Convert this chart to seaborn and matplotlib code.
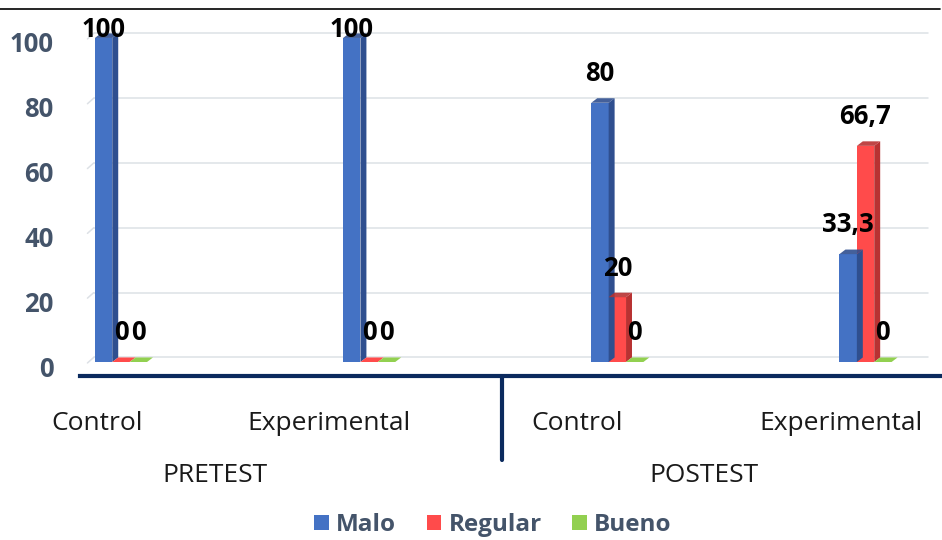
import matplotlib
matplotlib.use("Agg")
import matplotlib.pyplot as plt
import matplotlib.transforms as mtransforms
from matplotlib.patches import Polygon, Patch
from matplotlib.lines import Line2D
import seaborn as sns
import pandas as pd

# Datos
fases = ["PRETEST", "PRETEST", "POSTEST", "POSTEST"]
grupos = ["Control", "Experimental", "Control", "Experimental"]
niveles = ["Malo", "Regular", "Bueno"]
malo = [100, 100, 80, 33.3]
regular = [0, 0, 20, 66.7]
bueno = [0, 0, 0, 0]
yticks = [0, 20, 40, 60, 80, 100]

colores = {"Malo": "#4472C4", "Regular": "#FF4B4B", "Bueno": "#92D050"}
lados = {"Malo": "#2F4F8F", "Regular": "#B83232", "Bueno": "#5E9A2E"}

claves = [f"{f} {g}" for f, g in zip(fases, grupos)]
filas = []
for nivel, serie in zip(niveles, [malo, regular, bueno]):
    for k, v in zip(claves, serie):
        filas.append({"clave": k, "nivel": nivel, "valor": v})
df = pd.DataFrame(filas)

sns.set_theme(style="white")
plt.rcParams["font.family"] = ["Open Sans", "DejaVu Sans"]

fig = plt.figure(figsize=(9.42, 5.4), dpi=100)
ax = fig.add_axes([80 / 942, 1 - 376 / 540, 860 / 942, 351 / 540])

sns.barplot(data=df, x="clave", y="valor", hue="nivel", order=claves,
            hue_order=niveles, palette=colores, width=0.21, dodge=True,
            saturation=1, linewidth=0, legend=False, ax=ax)

ax.set_xlim(-0.165, 3.30)
ax.set_ylim(-4.32, 104)

# profundidad (efecto 3D)
dx, dy = 0.024, 1.4

# rejilla en la pared del fondo
for t in yticks:
    ax.plot([-0.11, 3.25], [t + dy, t + dy], color="#DDE1E6", lw=1.1, zorder=0)
    ax.plot([-0.135, -0.11], [t - 0.3, t + dy], color="#DDE1E6", lw=1.1, zorder=0)

# caras laterales y superiores de cada barra
for i, cont in enumerate(ax.containers):
    nivel = niveles[i]
    for bar in cont:
        x0 = bar.get_x()
        w = bar.get_width()
        h = bar.get_height()
        x1 = x0 + w
        lado = Polygon([(x1, 0), (x1 + dx, dy), (x1 + dx, h + dy), (x1, h)],
                       closed=True, facecolor=lados[nivel], edgecolor="none", zorder=3)
        tapa = Polygon([(x0, h), (x0 + dx, h + dy), (x1 + dx, h + dy), (x1, h)],
                       closed=True, facecolor=lados[nivel] if h > 0 else colores[nivel],
                       edgecolor="none", zorder=3, alpha=0.9 if h > 0 else 1)
        ax.add_patch(lado)
        ax.add_patch(tapa)
        bar.set_zorder(2)

# etiquetas de valor
def fmt(v):
    return f"{v:g}".replace(".", ",")

for i, cont in enumerate(ax.containers):
    for bar, v in zip(cont, [malo, regular, bueno][i]):
        xc = bar.get_x() + bar.get_width() / 2
        ax.text(xc, min(v + 9, 102.5), fmt(v), ha="center", va="center",
                fontsize=18.5, fontweight="bold", color="black", zorder=5)

# ejes
for s in ["left", "right", "top"]:
    ax.spines[s].set_visible(False)
ax.spines["bottom"].set_color("#0B2A5E")
ax.spines["bottom"].set_linewidth(3)
ax.set_xlabel("")
ax.set_ylabel("")
ax.set_xticks([])
ax.set_yticks(yticks)
ax.set_yticklabels([str(t) for t in yticks], fontsize=18.5, fontweight="bold",
                   color="#44546A")
ax.tick_params(axis="y", length=0, pad=19)
off = mtransforms.ScaledTranslation(0, -4 / 100, fig.dpi_scale_trans)
for lab in ax.get_yticklabels():
    lab.set_transform(lab.get_transform() + off)

# etiquetas de categoría (desplazadas por la perspectiva)
trans = mtransforms.blended_transform_factory(ax.transData, ax.transAxes)
desplaz = [-0.097, -0.161, -0.161, -0.097]
for i, g in enumerate(grupos):
    ax.text(i + desplaz[i], -47 / 351, g, transform=trans, ha="center", va="center",
            fontsize=19, color="#1A1A1A")
for xc, f in [(0.38, "PRETEST"), (2.35, "POSTEST")]:
    ax.text(xc, -99 / 351, f, transform=trans, ha="center", va="center",
            fontsize=19, color="#1A1A1A")
ax.plot([1.535, 1.535], [0, -84 / 351], transform=trans, color="#0B2A5E",
        lw=3, clip_on=False)

# línea superior
fig.add_artist(Line2D([0, 940 / 942], [1 - 9 / 540, 1 - 9 / 540],
                      transform=fig.transFigure, color="black", lw=1.2))

# leyenda
handles = [Patch(facecolor=colores[n], edgecolor="none") for n in niveles]
leg = fig.legend(handles, niveles, loc="center", bbox_to_anchor=(493 / 942, 1 - 525 / 540),
                 ncol=3, frameon=False, handlelength=0.6, handleheight=0.6,
                 handletextpad=0.3, columnspacing=1.25,
                 prop={"size": 17.5, "weight": "bold"})
for t in leg.get_texts():
    t.set_color("#44546A")

fig.savefig("out.png", dpi=100)
